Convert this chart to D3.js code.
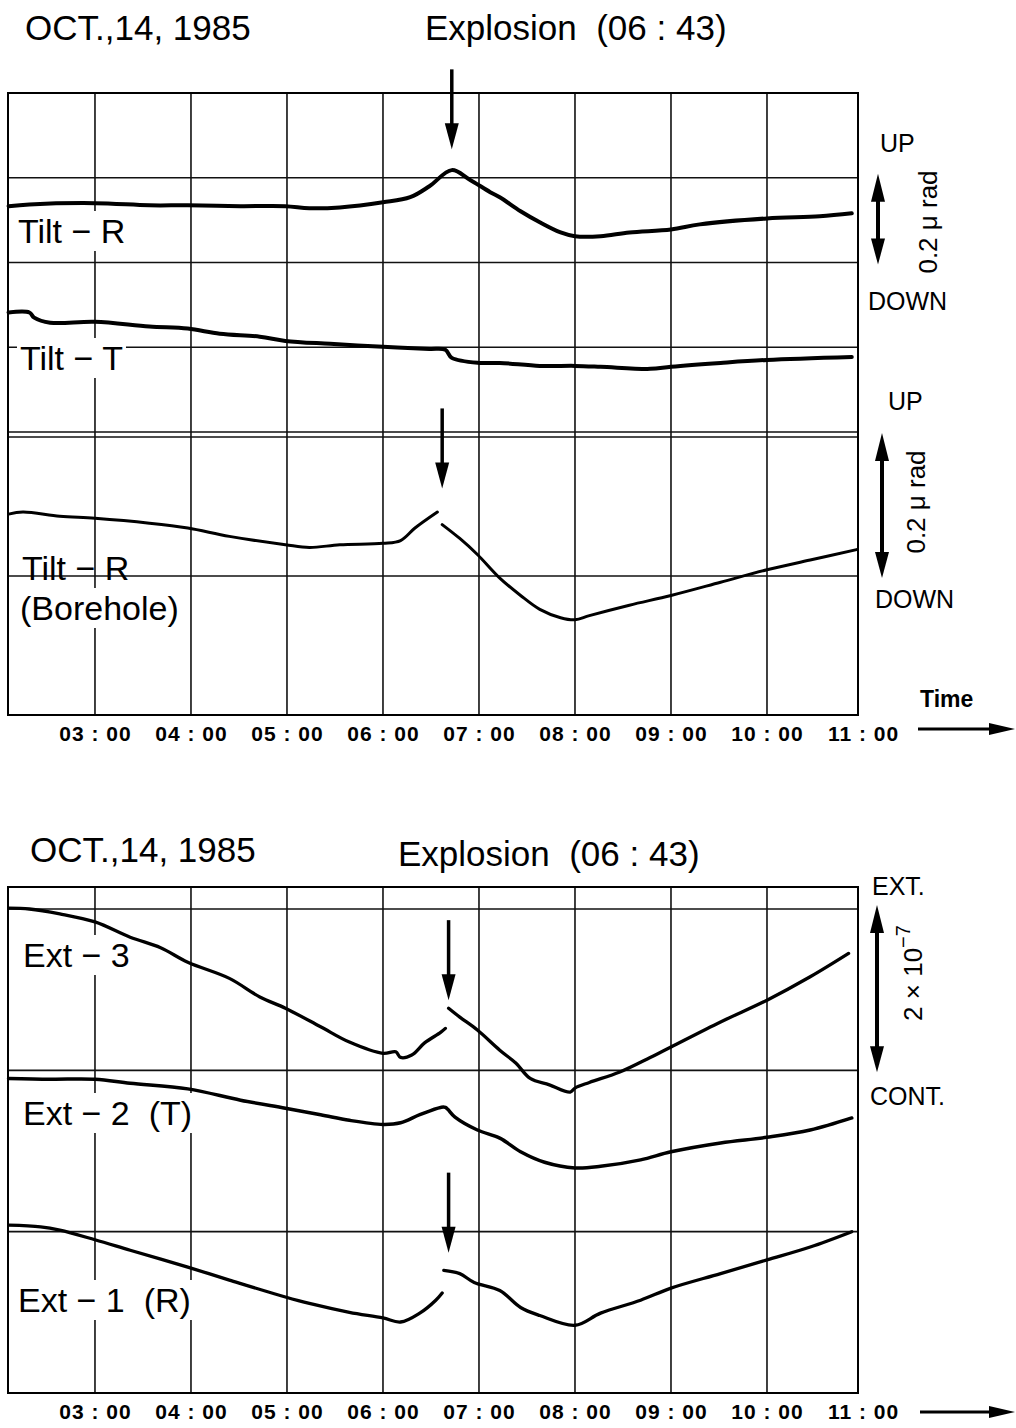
<!DOCTYPE html>
<html>
<head>
<meta charset="utf-8">
<script src="https://cdn.jsdelivr.net/npm/d3@7"></script>
<style>
  body { margin: 0; background: #fff; }
  svg text { font-family: "Liberation Sans", Arial, sans-serif; fill: #000; white-space: pre; }
</style>
</head>
<body>
<div id="chart"></div>
<script>
// hours shown under both records
var hourTicks = [3, 4, 5, 6, 7, 8, 9, 10, 11];

// tilt records, micro radian (relative)
var tiltR = [["02:06", 0.133], ["02:19", 0.137], ["03:00", 0.140], ["03:34", 0.135], ["03:58", 0.135],
  ["04:31", 0.133], ["04:59", 0.133], ["05:14", 0.128], ["05:33", 0.130], ["06:00", 0.142],
  ["06:17", 0.154], ["06:29", 0.180], ["06:43", 0.218], ["06:54", 0.196], ["07:07", 0.166],
  ["07:13", 0.154], ["07:26", 0.121], ["07:38", 0.095], ["07:51", 0.071], ["08:00", 0.062],
  ["08:16", 0.062], ["08:34", 0.071], ["09:00", 0.078], ["09:18", 0.090], ["10:00", 0.104],
  ["10:33", 0.109], ["10:53", 0.116]];

var tiltT = [["02:06", -0.118], ["02:19", -0.118], ["02:22", -0.130], ["02:32", -0.142], ["03:00", -0.140],
  ["03:34", -0.151], ["03:58", -0.156], ["04:18", -0.168], ["04:43", -0.175], ["04:59", -0.185],
  ["05:27", -0.192], ["06:00", -0.199], ["06:29", -0.204], ["06:39", -0.206], ["06:43", -0.225],
  ["07:01", -0.237], ["07:13", -0.237], ["07:38", -0.244], ["08:00", -0.244], ["08:16", -0.246],
  ["08:47", -0.251], ["09:00", -0.246], ["09:31", -0.237], ["10:00", -0.230], ["10:53", -0.223]];

var tiltBorehole = [["02:06", 0.089], ["02:15", 0.092], ["02:38", 0.086], ["03:00", 0.083], ["03:34", 0.076],
  ["03:58", 0.069], ["04:24", 0.057], ["04:59", 0.045], ["05:14", 0.041], ["05:33", 0.045],
  ["06:00", 0.047], ["06:11", 0.051], ["06:20", 0.069], ["06:34", 0.092], ["06:35", null],
  ["06:37", 0.074], ["06:48", 0.054], ["06:59", 0.031], ["07:13", -0.003], ["07:26", -0.028],
  ["07:38", -0.048], ["07:51", -0.060], ["08:00", -0.063], ["08:09", -0.057], ["08:34", -0.042],
  ["09:00", -0.028], ["09:31", -0.009], ["10:00", 0.009], ["10:27", 0.023], ["10:56", 0.038]];

// extensometer records, 1e-7 strain (relative)
var ext3 = [["02:06", 2.01], ["02:19", 2.00], ["02:38", 1.94], ["03:00", 1.84], ["03:22", 1.65],
  ["03:41", 1.52], ["03:58", 1.34], ["04:24", 1.14], ["04:43", 0.91], ["04:59", 0.77],
  ["05:21", 0.54], ["05:39", 0.35], ["06:00", 0.21], ["06:08", 0.23], ["06:11", 0.16],
  ["06:18", 0.19], ["06:26", 0.34], ["06:36", 0.47], ["06:39", 0.52], ["06:40", null],
  ["06:41", 0.77], ["06:48", 0.66], ["06:59", 0.50], ["07:13", 0.25], ["07:23", 0.09],
  ["07:32", -0.10], ["07:44", -0.18], ["07:57", -0.27], ["08:00", -0.22], ["08:09", -0.15],
  ["08:28", -0.02], ["08:47", 0.16], ["09:00", 0.29], ["09:31", 0.60], ["10:00", 0.87],
  ["10:27", 1.16], ["10:51", 1.45]];

var ext2 = [["02:06", -0.10], ["02:32", -0.11], ["03:00", -0.11], ["03:22", -0.16], ["03:58", -0.23],
  ["04:31", -0.37], ["04:59", -0.47], ["05:21", -0.55], ["05:39", -0.62], ["06:00", -0.67],
  ["06:11", -0.65], ["06:23", -0.55], ["06:36", -0.46], ["06:39", -0.46], ["06:45", -0.58],
  ["06:59", -0.74], ["07:13", -0.84], ["07:26", -1.01], ["07:41", -1.14], ["08:00", -1.21],
  ["08:16", -1.19], ["08:41", -1.11], ["09:00", -1.01], ["09:31", -0.90], ["10:00", -0.83],
  ["10:27", -0.74], ["10:53", -0.59]];

var ext1 = [["02:06", -1.92], ["02:26", -1.94], ["02:38", -1.98], ["03:00", -2.10], ["03:22", -2.23],
  ["03:58", -2.44], ["04:24", -2.60], ["04:59", -2.81], ["05:14", -2.89], ["05:39", -3.00],
  ["06:00", -3.07], ["06:11", -3.12], ["06:23", -3.01], ["06:33", -2.85], ["06:37", -2.76],
  ["06:37", null], ["06:38", -2.48], ["06:48", -2.52], ["06:57", -2.63], ["07:13", -2.73],
  ["07:26", -2.94], ["07:38", -3.04], ["08:00", -3.16], ["08:16", -3.01], ["08:41", -2.85],
  ["09:00", -2.70], ["09:31", -2.52], ["10:00", -2.35], ["10:27", -2.19], ["10:53", -2.00]];

// explosion arrows: time and level of the arrow tip
var explosionArrows = [
  { time: "06:43", value: 0.267, scale: "tilt" },
  { time: "06:37", value: 0.126, scale: "bore" },
  { time: "06:41", value: 0.87, scale: "ext" },
  { time: "06:41", value: -2.26, scale: "ext" }
];

var tiltGrid = [0.2, 0, -0.2, -0.4];
var boreGrid = [0.2, 0];
var extGrid = [2, 0, -2];

function toHours(s) {
  var p = s.split(":");
  return +p[0] + p[1] / 60;
}

var width = 1016, height = 1428;
var left = 8, right = 858;

var svg = d3.select("#chart").append("svg")
  .attr("width", width)
  .attr("height", height);

svg.append("rect").attr("width", width).attr("height", height).attr("fill", "#fff");

var x = d3.scaleLinear().domain([2.094, 10.948]).range([left, right]);

var tiltY = d3.scaleLinear().domain([-0.4, 0.4]).range([432, 93]);
var boreY = d3.scaleLinear().domain([-0.2, 0.2]).range([715, 437]);
var extY = d3.scaleLinear().domain([-4, 2]).range([1393, 909]);
var scales = { tilt: tiltY, bore: boreY, ext: extY };

var topPanel = { top: tiltY(0.4), bottom: 715 };
var lowPanel = { top: 887, bottom: 1393 };

function drawGrid(panel, lines) {
  var g = svg.append("g");
  // vertical hour lines
  g.selectAll(".vline")
    .data(hourTicks.filter(function (h) { return x(h) < right - 5; }))
    .enter().append("line")
    .attr("x1", function (d) { return x(d); })
    .attr("x2", function (d) { return x(d); })
    .attr("y1", panel.top)
    .attr("y2", panel.bottom)
    .attr("stroke", "#111")
    .attr("stroke-width", 1.6);
  lines.forEach(function (l) {
    g.selectAll(null)
      .data(l.values)
      .enter().append("line")
      .attr("x1", left)
      .attr("x2", right)
      .attr("y1", function (d) { return l.scale(d); })
      .attr("y2", function (d) { return l.scale(d); })
      .attr("stroke", "#111")
      .attr("stroke-width", 1.6);
  });
  g.append("rect")
    .attr("x", left)
    .attr("y", panel.top)
    .attr("width", right - left)
    .attr("height", panel.bottom - panel.top)
    .attr("fill", "none")
    .attr("stroke", "#000")
    .attr("stroke-width", 2);
  return g;
}

drawGrid(topPanel, [{ values: tiltGrid, scale: tiltY }, { values: boreGrid, scale: boreY }]);
drawGrid(lowPanel, [{ values: extGrid, scale: extY }]);

// labels sit on a white patch that breaks the grid
function label(s, x0, y0, size, box) {
  var g = svg.append("g");
  var t = g.append("text")
    .attr("x", x0)
    .attr("y", y0)
    .attr("font-size", size)
    .text(s);
  if (box) {
    var b = t.node().getBBox();
    g.insert("rect", "text")
      .attr("x", b.x - 3)
      .attr("y", b.y - 1)
      .attr("width", b.width + 6)
      .attr("height", b.height + 2)
      .attr("fill", "#fff");
  }
}

var line = function (scale) {
  return d3.line()
    .defined(function (d) { return d[1] != null; })
    .x(function (d) { return x(toHours(d[0])); })
    .y(function (d) { return scale(d[1]); })
    .curve(d3.curveCatmullRom.alpha(0.5));
};

label("Tilt − R", 18, 243, 34, true);
label("Tilt − T", 20, 370, 34, true);
label("Tilt − R", 22, 580, 34, false);
label("(Borehole)", 20, 620, 34, true);
label("Ext − 3", 23, 967, 34, true);
label("Ext − 2  (T)", 23, 1125, 34, true);
label("Ext − 1  (R)", 18, 1312, 34, true);

var traces = [
  { data: tiltR, scale: tiltY, w: 4 },
  { data: tiltT, scale: tiltY, w: 4 },
  { data: tiltBorehole, scale: boreY, w: 3 },
  { data: ext3, scale: extY, w: 3.3 },
  { data: ext2, scale: extY, w: 3.5 },
  { data: ext1, scale: extY, w: 3.3 }
];

svg.selectAll(".trace")
  .data(traces)
  .enter().append("path")
  .attr("class", "trace")
  .attr("d", function (d) { return line(d.scale)(d.data); })
  .attr("fill", "none")
  .attr("stroke", "#000")
  .attr("stroke-width", function (d) { return d.w; })
  .attr("stroke-linejoin", "round")
  .attr("stroke-linecap", "round");

// explosion arrows
explosionArrows.forEach(function (a) {
  var ax = x(toHours(a.time));
  var tip = scales[a.scale](a.value);
  svg.append("line")
    .attr("x1", ax).attr("x2", ax)
    .attr("y1", tip - 80).attr("y2", tip - 20)
    .attr("stroke", "#000").attr("stroke-width", 3.5);
  svg.append("path")
    .attr("d", "M" + (ax - 7) + "," + (tip - 26) + "L" + (ax + 7) + "," + (tip - 26) + "L" + ax + "," + tip + "Z")
    .attr("fill", "#000");
});

// time axes
var fmt = d3.format("02");
function timeAxis(y0) {
  var g = svg.append("g")
    .attr("transform", "translate(0," + y0 + ")")
    .call(d3.axisBottom(x).tickValues(hourTicks).tickSize(0).tickPadding(11)
      .tickFormat(function (d) { return fmt(d) + " : 00"; }));
  g.select(".domain").remove();
  g.selectAll("text")
    .attr("font-family", "'Liberation Sans', Arial, sans-serif")
    .attr("font-size", 21)
    .attr("font-weight", "bold")
    .attr("letter-spacing", 1)
    .attr("fill", "#000");
}
timeAxis(topPanel.bottom);
timeAxis(lowPanel.bottom);

function hArrow(x1, x2, y0) {
  svg.append("line").attr("x1", x1).attr("x2", x2 - 20).attr("y1", y0).attr("y2", y0)
    .attr("stroke", "#000").attr("stroke-width", 3);
  svg.append("path")
    .attr("d", "M" + (x2 - 26) + "," + (y0 - 6) + "L" + x2 + "," + y0 + "L" + (x2 - 26) + "," + (y0 + 6) + "Z")
    .attr("fill", "#000");
}
hArrow(918, 1015, 729);
hArrow(920, 1015, 1412);

svg.append("text").attr("x", 920).attr("y", 707).attr("font-size", 23).attr("font-weight", "bold").text("Time");

// double headed scale bars
function vArrow(x0, y1, y2) {
  svg.append("line").attr("x1", x0).attr("x2", x0).attr("y1", y1 + 18).attr("y2", y2 - 18)
    .attr("stroke", "#000").attr("stroke-width", 4);
  svg.append("path")
    .attr("d", "M" + (x0 - 7) + "," + (y1 + 24) + "L" + x0 + "," + (y1 - 4) + "L" + (x0 + 7) + "," + (y1 + 24) + "Z")
    .attr("fill", "#000");
  svg.append("path")
    .attr("d", "M" + (x0 - 7) + "," + (y2 - 24) + "L" + x0 + "," + (y2 + 2) + "L" + (x0 + 7) + "," + (y2 - 24) + "Z")
    .attr("fill", "#000");
}
vArrow(878, tiltY(0.2), tiltY(0));
vArrow(882, boreY(0.2), boreY(0));
vArrow(877, extY(2), extY(0));

function sideText(s, x0, y0) {
  svg.append("text").attr("x", x0).attr("y", y0).attr("font-size", 25).text(s);
}
sideText("UP", 880, 152);
sideText("DOWN", 868, 310);
sideText("UP", 888, 410);
sideText("DOWN", 875, 608);
sideText("EXT.", 872, 895);
sideText("CONT.", 870, 1105);

function rotText(cx, cy) {
  return svg.append("text")
    .attr("transform", "translate(" + cx + "," + cy + ") rotate(-90)")
    .attr("text-anchor", "middle")
    .attr("font-size", 26);
}
rotText(937, 222).text("0.2 μ rad");
rotText(925, 502).text("0.2 μ rad");
var ex = rotText(922, 973);
ex.append("tspan").text("2 × 10");
ex.append("tspan").attr("dy", -12).attr("font-size", 20).text("−7");

// titles
function title(s, x0, y0) {
  svg.append("text").attr("x", x0).attr("y", y0).attr("font-size", 35).text(s);
}
title("OCT.,14, 1985", 25, 40);
title("Explosion  (06 : 43)", 425, 40);
title("OCT.,14, 1985", 30, 862);
title("Explosion  (06 : 43)", 398, 866);
</script>
</body>
</html>
